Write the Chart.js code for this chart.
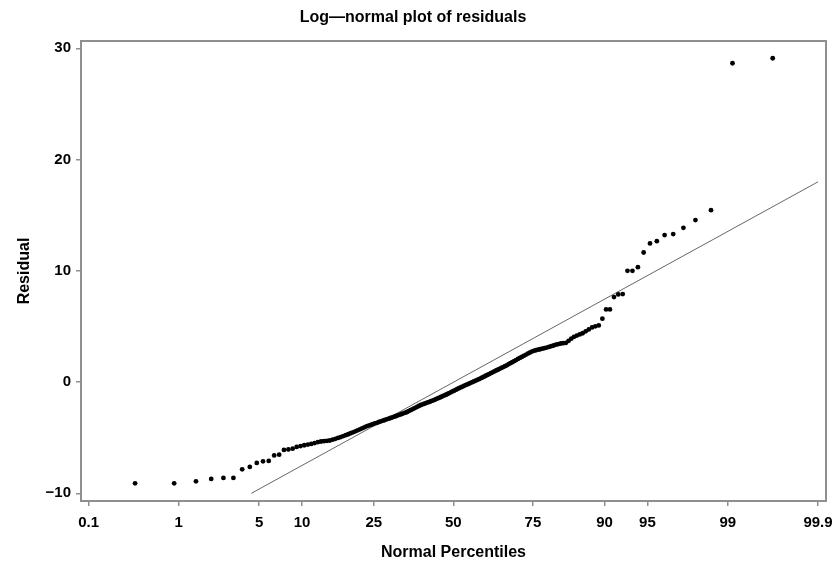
<!DOCTYPE html>
<html>
<head>
<meta charset="utf-8">
<title>Log-normal plot of residuals</title>
<script src="https://cdn.jsdelivr.net/npm/chart.js@4.4.1/dist/chart.umd.min.js"></script>
<style>
  html, body { margin: 0; padding: 0; background: #fff; }
  #wrap { width: 836px; height: 565px; }
</style>
</head>
<body>
<div id="wrap"><canvas id="qqChart" width="836" height="565"></canvas></div>
<script>
// Normal percentiles (plotting positions) of the 180 sorted residuals
const percentiles = [
    0.35, 0.90, 1.46, 2.01, 2.57, 3.12, 3.68, 4.23, 4.79, 5.34,
    5.89, 6.45, 7.00, 7.56, 8.11, 8.67, 9.22, 9.78, 10.33, 10.89,
    11.44, 12.00, 12.55, 13.11, 13.66, 14.22, 14.77, 15.33, 15.88, 16.44,
    16.99, 17.55, 18.10, 18.65, 19.21, 19.76, 20.32, 20.87, 21.43, 21.98,
    22.54, 23.09, 23.65, 24.20, 24.76, 25.31, 25.87, 26.42, 26.98, 27.53,
    28.09, 28.64, 29.20, 29.75, 30.31, 30.86, 31.42, 31.97, 32.52, 33.08,
    33.63, 34.19, 34.74, 35.30, 35.85, 36.41, 36.96, 37.52, 38.07, 38.63,
    39.18, 39.74, 40.29, 40.85, 41.40, 41.96, 42.51, 43.07, 43.62, 44.18,
    44.73, 45.29, 45.84, 46.39, 46.95, 47.50, 48.06, 48.61, 49.17, 49.72,
    50.28, 50.83, 51.39, 51.94, 52.50, 53.05, 53.61, 54.16, 54.72, 55.27,
    55.83, 56.38, 56.94, 57.49, 58.05, 58.60, 59.16, 59.71, 60.26, 60.82,
    61.37, 61.93, 62.48, 63.04, 63.59, 64.15, 64.70, 65.26, 65.81, 66.37,
    66.92, 67.48, 68.03, 68.59, 69.14, 69.70, 70.25, 70.81, 71.36, 71.92,
    72.47, 73.03, 73.58, 74.13, 74.69, 75.24, 75.80, 76.35, 76.91, 77.46,
    78.02, 78.57, 79.13, 79.68, 80.24, 80.79, 81.35, 81.90, 82.46, 83.01,
    83.57, 84.12, 84.68, 85.23, 85.79, 86.34, 86.90, 87.45, 88.01, 88.56,
    89.11, 89.67, 90.22, 90.78, 91.33, 91.89, 92.44, 93.00, 93.55, 94.11,
    94.66, 95.22, 95.77, 96.33, 96.88, 97.44, 97.99, 98.55, 99.10, 99.66
];

// Residuals, sorted
const residuals = [
    -9.10, -9.10, -8.92, -8.71, -8.62, -8.62, -7.84, -7.63, -7.27, -7.12,
    -7.09, -6.59, -6.53, -6.10, -6.05, -5.99, -5.83, -5.75, -5.68, -5.62,
    -5.56, -5.48, -5.40, -5.34, -5.31, -5.28, -5.25, -5.18, -5.10, -5.02,
    -4.94, -4.85, -4.77, -4.69, -4.60, -4.52, -4.43, -4.34, -4.25, -4.16,
    -4.07, -3.98, -3.91, -3.85, -3.78, -3.72, -3.66, -3.59, -3.53, -3.47,
    -3.41, -3.35, -3.29, -3.23, -3.17, -3.11, -3.05, -2.99, -2.93, -2.87,
    -2.81, -2.75, -2.69, -2.61, -2.53, -2.45, -2.37, -2.29, -2.21, -2.13,
    -2.06, -2.00, -1.95, -1.89, -1.83, -1.78, -1.72, -1.66, -1.60, -1.53,
    -1.47, -1.40, -1.34, -1.27, -1.20, -1.14, -1.07, -0.99, -0.92, -0.84,
    -0.77, -0.70, -0.62, -0.55, -0.48, -0.41, -0.34, -0.27, -0.21, -0.14,
    -0.07, -0.01, 0.06, 0.13, 0.20, 0.26, 0.34, 0.41, 0.49, 0.57,
    0.64, 0.72, 0.80, 0.88, 0.96, 1.04, 1.11, 1.19, 1.27, 1.35,
    1.43, 1.51, 1.61, 1.70, 1.79, 1.89, 1.98, 2.08, 2.17, 2.26,
    2.36, 2.45, 2.55, 2.64, 2.74, 2.81, 2.86, 2.91, 2.95, 3.00,
    3.05, 3.10, 3.16, 3.23, 3.29, 3.36, 3.42, 3.47, 3.50, 3.53,
    3.71, 3.90, 4.07, 4.18, 4.28, 4.39, 4.56, 4.73, 4.91, 5.01,
    5.09, 5.70, 6.53, 6.53, 7.64, 7.88, 7.91, 10.00, 10.00, 10.33,
    11.65, 12.46, 12.67, 13.21, 13.30, 13.87, 14.56, 15.45, 28.66, 29.11
];

// Reference line end points
const fitPercentiles = [4.35, 99.9];
const fitResiduals = [-10, 18];

// Axis ticks
const xTickPercentiles = [0.1, 1, 5, 10, 25, 50, 75, 90, 95, 99, 99.9];
const xTickLabels = ['0.1', '1', '5', '10', '25', '50', '75', '90', '95', '99', '99.9'];
const yTickValues = [-10, 0, 10, 20, 30];
const yTickLabels = ['\u221210', '0', '10', '20', '30'];

// inverse normal cdf (Acklam) - maps a percentile to the probability axis
function probit(p) {
    const a = [-3.969683028665376e+01, 2.209460984245205e+02, -2.759285104469687e+02,
               1.383577518672690e+02, -3.066479806614716e+01, 2.506628277459239e+00];
    const b = [-5.447609879822406e+01, 1.615858368580409e+02, -1.556989798598866e+02,
               6.680131188771972e+01, -1.328068155288572e+01];
    const c = [-7.784894002430293e-03, -3.223964580411365e-01, -2.400758277161838e+00,
               -2.549732539343734e+00, 4.374664141464968e+00, 2.938163982698783e+00];
    const d = [7.784695709041462e-03, 3.224671290700398e-01, 2.445134137142996e+00,
               3.754408661907416e+00];
    const pl = 0.02425;
    let q, r;
    if (p < pl) {
        q = Math.sqrt(-2 * Math.log(p));
        return (((((c[0]*q+c[1])*q+c[2])*q+c[3])*q+c[4])*q+c[5]) /
               ((((d[0]*q+d[1])*q+d[2])*q+d[3])*q+1);
    }
    if (p > 1 - pl) {
        q = Math.sqrt(-2 * Math.log(1 - p));
        return -(((((c[0]*q+c[1])*q+c[2])*q+c[3])*q+c[4])*q+c[5]) /
                ((((d[0]*q+d[1])*q+d[2])*q+d[3])*q+1);
    }
    q = p - 0.5;
    r = q * q;
    return (((((a[0]*r+a[1])*r+a[2])*r+a[3])*r+a[4])*r+a[5])*q /
           (((((b[0]*r+b[1])*r+b[2])*r+b[3])*r+b[4])*r+1);
}

const pointData = percentiles.map((p, i) => ({ x: probit(p / 100), y: residuals[i] }));
const fitData = fitPercentiles.map((p, i) => ({ x: probit(p / 100), y: fitResiduals[i] }));

const FONT = '"Liberation Sans", Arial, Helvetica, sans-serif';
const AXIS_GRAY = '#8f8f8f';

// frame round the plot area
const frame = {
    id: 'frame',
    afterDraw(chart) {
        const { ctx, chartArea: a } = chart;
        ctx.save();
        ctx.strokeStyle = AXIS_GRAY;
        ctx.lineWidth = 2;
        ctx.strokeRect(a.left, a.top, a.right - a.left, a.bottom - a.top);
        ctx.restore();
    }
};

const ctx = document.getElementById('qqChart').getContext('2d');
const qqChart = new Chart(ctx, {
    type: 'scatter',
    data: {
        datasets: [{
            label: 'Residuals',
            data: pointData,
            backgroundColor: '#000',
            borderWidth: 0,
            pointRadius: 2.4,
            pointHoverRadius: 2.4
        }, {
            type: 'line',
            label: 'Fit',
            data: fitData,
            borderColor: '#666',
            borderWidth: 1,
            pointRadius: 0,
            fill: false
        }]
    },
    options: {
        responsive: false,
        animation: false,
        layout: { padding: { left: 0, right: 10, top: 0, bottom: 0 } },
        plugins: {
            legend: { display: false },
            tooltip: { enabled: false },
            title: {
                display: true,
                text: 'Log\u2014normal plot of residuals',
                color: '#000',
                font: { family: FONT, size: 16, weight: 'bold' },
                padding: { top: 8, bottom: 13.8 }
            }
        },
        scales: {
            x: {
                type: 'linear',
                min: -3.155,
                max: 3.158,
                afterBuildTicks: (scale) => {
                    scale.ticks = xTickPercentiles.map(p => ({ value: probit(p / 100) }));
                },
                afterFit: (scale) => {
                    scale.height = 64;
                    scale.paddingLeft = 0;
                    scale.paddingRight = 0;
                },
                ticks: {
                    color: '#000',
                    padding: 8,
                    maxRotation: 0,
                    autoSkip: false,
                    font: { family: FONT, size: 15, weight: 'bold' },
                    callback: (value, index) => xTickLabels[index]
                },
                grid: { drawOnChartArea: false, color: AXIS_GRAY, tickLength: 5, lineWidth: 1.5 },
                border: { display: false },
                title: {
                    display: true,
                    text: 'Normal Percentiles',
                    color: '#000',
                    font: { family: FONT, size: 16, weight: 'bold' },
                    padding: { top: 0, bottom: 2.4 }
                }
            },
            y: {
                min: -10.69,
                max: 30.66,
                afterBuildTicks: (scale) => {
                    scale.ticks = yTickValues.map(v => ({ value: v }));
                },
                afterFit: (scale) => { scale.width = 81; },
                ticks: {
                    color: '#000',
                    padding: 5,
                    font: { family: FONT, size: 15, weight: 'bold' },
                    callback: (value, index) => yTickLabels[index]
                },
                grid: { drawOnChartArea: false, color: AXIS_GRAY, tickLength: 5, lineWidth: 1.5 },
                border: { display: false },
                title: {
                    display: true,
                    text: 'Residual',
                    color: '#000',
                    font: { family: FONT, size: 16, weight: 'bold' },
                    padding: { top: 14.5, bottom: 0 }
                }
            }
        }
    },
    plugins: [frame]
});
</script>
</body>
</html>
